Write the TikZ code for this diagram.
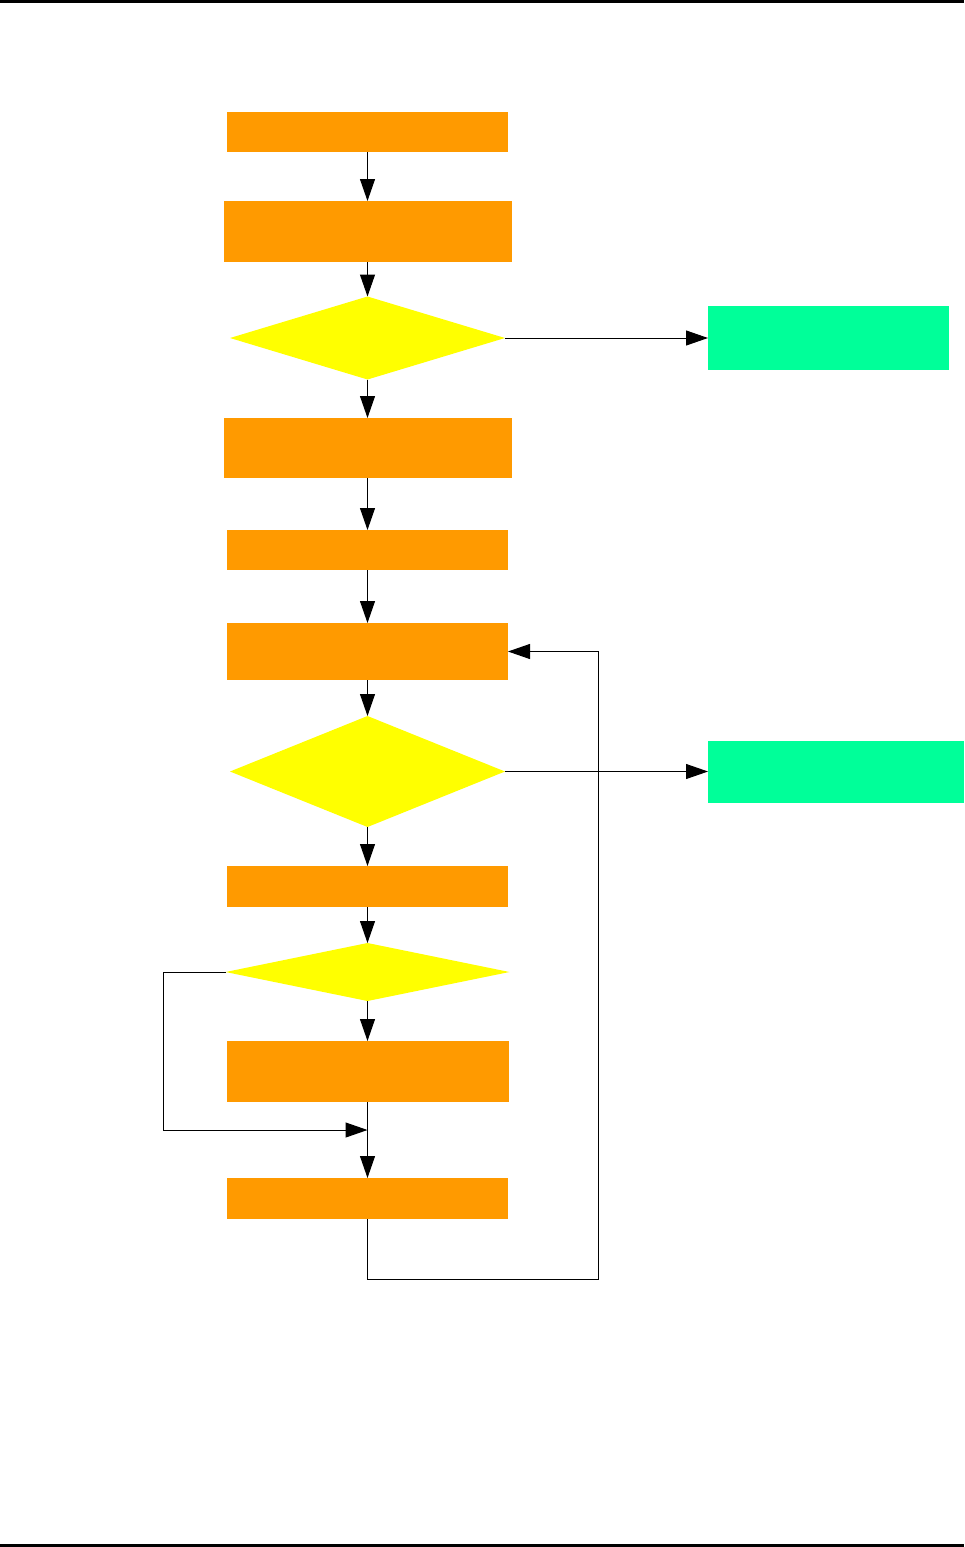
\documentclass[tikz,border=0pt]{standalone}
\usetikzlibrary{shapes.geometric,arrows.meta}
\definecolor{boxorange}{HTML}{FF9A00}
\definecolor{boxgreen}{HTML}{00FF99}
\definecolor{dyellow}{HTML}{FFFF00}
\begin{document}
\begin{tikzpicture}[x=1pt,y=-1pt,
  procbox/.style={fill=boxorange,draw=none,inner sep=0pt,outer sep=0pt,minimum width=#1},
  procbox/.default=281pt,
  endbox/.style={fill=boxgreen,draw=none,inner sep=0pt,outer sep=0pt},
  decision/.style={diamond,fill=dyellow,draw=none,inner sep=0pt,outer sep=0pt,minimum width=275pt},
  flow/.style={line width=1pt,-{Triangle[length=22pt,width=15pt]}},
  plain/.style={line width=1pt}]
\useasboundingbox (0,0) rectangle (964,1547);
\fill[black] (0,0) rectangle (964,2.5);
\fill[black] (0,1544) rectangle (964,1547);
% nodes
\node[procbox, minimum height=40pt] (b1) at (367.5,132) {};
\node[procbox=288pt, minimum height=61pt] (b2) at (367.5,231.5) {};
\node[decision, minimum height=83pt] (d1) at (367.5,338) {};
\node[endbox, minimum width=241pt, minimum height=64pt] (g1) at (828.5,338) {};
\node[procbox=288pt, minimum height=60pt] (b3) at (367.5,448) {};
\node[procbox, minimum height=40pt] (b4) at (367.5,550) {};
\node[procbox, minimum height=57pt] (b5) at (367.5,651.5) {};
\node[decision, minimum height=111pt] (d2) at (367.5,771.5) {};
\node[endbox, minimum width=256pt, minimum height=62pt] (g2) at (836,771.5) {};
\node[procbox, minimum height=41pt] (b6) at (367.5,886.5) {};
\node[decision, minimum width=284pt, minimum height=58pt] (d3) at (367.5,972) {};
\node[procbox=282pt, minimum height=61pt] (b7) at (367.5,1071.5) {};
\node[procbox, minimum height=41pt] (b8) at (367.5,1198.5) {};
\coordinate (j1) at (367.5,1130);
\coordinate (l1) at (163,972);
\coordinate (l2) at (163,1130);
\coordinate (r0) at (367.5,1279);
\coordinate (r1) at (598,1279);
% connectors
\draw[flow] (b1.south) -- (b2.north);
\draw[flow] (b2.south) -- (d1.north);
\draw[flow] (d1.south) -- (b3.north);
\draw[flow] (b3.south) -- (b4.north);
\draw[flow] (b4.south) -- (b5.north);
\draw[flow] (b5.south) -- (d2.north);
\draw[flow] (d2.south) -- (b6.north);
\draw[flow] (b6.south) -- (d3.north);
\draw[flow] (d3.south) -- (b7.north);
\draw[flow] (b7.south) -- (b8.north);
\draw[flow] (d1.east) -- (g1.west);
\draw[flow] (d2.east) -- (g2.west);
\draw[flow] (d3.west) -- (l1) -- (l2) -- (j1);
\draw[flow] (b8.south) -- (r0) -- (r1) |- (b5.east);
\end{tikzpicture}
\end{document}
